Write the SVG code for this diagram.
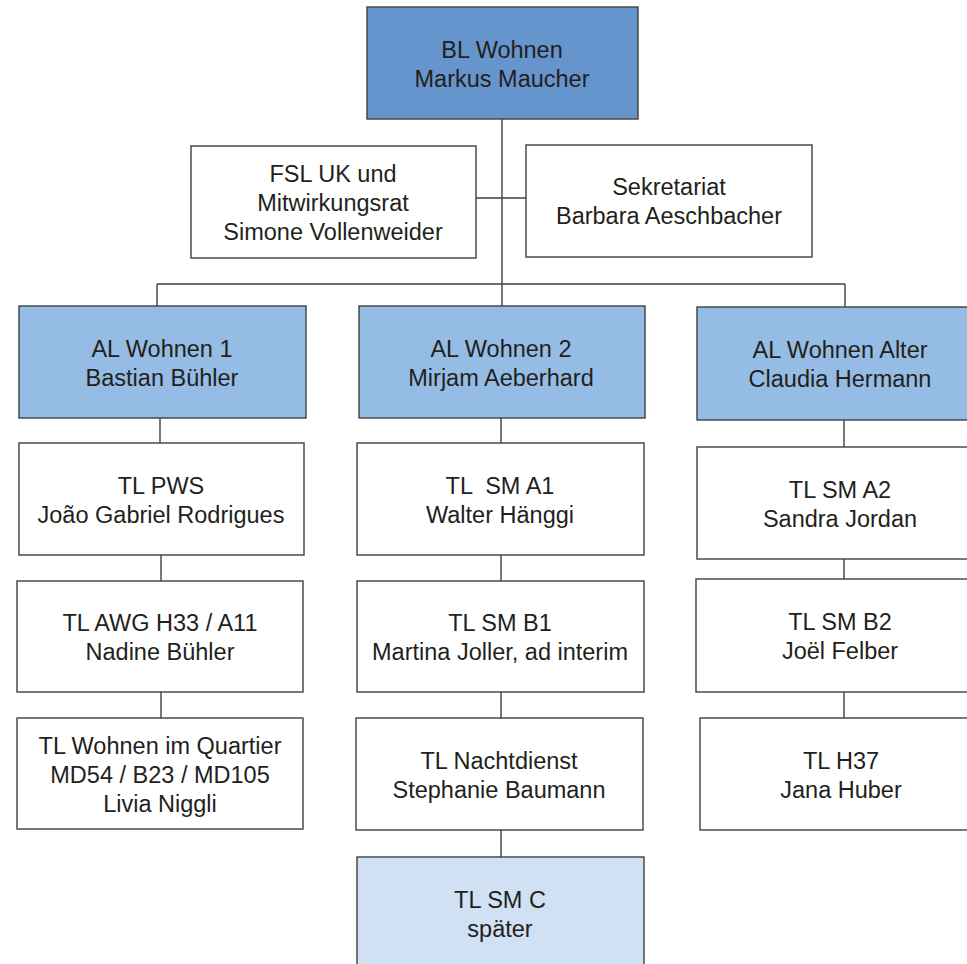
<svg xmlns="http://www.w3.org/2000/svg" width="967" height="964" viewBox="0 0 967 964">
<style>
.box{stroke:#3f3f3f;stroke-width:1.4}
.w{fill:#ffffff}
.top{fill:#6694cc}
.al{fill:#95bce4}
.lt{fill:#d0e1f3}
text{font-family:"Liberation Sans",Arial,sans-serif;font-size:23.5px;fill:#231f20;text-anchor:middle}
.pre{white-space:pre}
.con line{stroke:#3f3f3f;stroke-width:1.4}
</style>
<rect width="967" height="964" fill="#ffffff"/>
<g class="con">
<line x1="502" y1="119" x2="502" y2="306"/>
<line x1="476" y1="198" x2="526" y2="198"/>
<line x1="157" y1="284" x2="845" y2="284"/>
<line x1="157" y1="284" x2="157" y2="306"/>
<line x1="845" y1="284" x2="845" y2="307"/>
<line x1="160" y1="418" x2="160" y2="443"/>
<line x1="161" y1="555" x2="161" y2="581"/>
<line x1="161" y1="692" x2="161" y2="718"/>
<line x1="501" y1="418" x2="501" y2="443"/>
<line x1="501" y1="555" x2="501" y2="581"/>
<line x1="501" y1="692" x2="501" y2="718"/>
<line x1="501" y1="830" x2="501" y2="857"/>
<line x1="844" y1="420" x2="844" y2="447"/>
<line x1="844" y1="559" x2="844" y2="579"/>
<line x1="844" y1="692" x2="844" y2="718"/>
</g>
<g id="bl"><rect class="box top" x="367" y="7" width="271" height="112"/><text x="502" y="58">BL Wohnen</text><text x="502" y="87">Markus Maucher</text></g>
<g id="fsl"><rect class="box w" x="191" y="146" width="285" height="112"/><text x="333" y="182">FSL UK und</text><text x="333" y="211">Mitwirkungsrat</text><text x="333" y="240">Simone Vollenweider</text></g>
<g id="sek"><rect class="box w" x="526" y="145" width="286" height="112"/><text x="669" y="195">Sekretariat</text><text x="669" y="224">Barbara Aeschbacher</text></g>
<g id="al1"><rect class="box al" x="19" y="306" width="287" height="112"/><text x="162" y="357">AL Wohnen 1</text><text x="162" y="386">Bastian Bühler</text></g>
<g id="al2"><rect class="box al" x="359" y="306" width="286" height="112"/><text x="501" y="357">AL Wohnen 2</text><text x="501" y="386">Mirjam Aeberhard</text></g>
<g id="al3"><rect class="box al" x="697" y="307" width="290" height="113"/><text x="840" y="358">AL Wohnen Alter</text><text x="840" y="387">Claudia Hermann</text></g>
<g id="pws"><rect class="box w" x="19" y="443" width="285" height="112"/><text x="161" y="494">TL PWS</text><text x="161" y="523">João Gabriel Rodrigues</text></g>
<g id="awg"><rect class="box w" x="17" y="581" width="286" height="111"/><text x="160" y="631">TL AWG H33 / A11</text><text x="160" y="660">Nadine Bühler</text></g>
<g id="wiq"><rect class="box w" x="17" y="718" width="286" height="111"/><text x="160" y="754">TL Wohnen im Quartier</text><text x="160" y="783">MD54 / B23 / MD105</text><text x="160" y="812">Livia Niggli</text></g>
<g id="a1"><rect class="box w" x="357" y="443" width="287" height="112"/><text class="pre" x="500" y="494">TL  SM A1</text><text x="500" y="523">Walter Hänggi</text></g>
<g id="b1"><rect class="box w" x="357" y="581" width="287" height="111"/><text x="500" y="631">TL SM B1</text><text x="500" y="660">Martina Joller, ad interim</text></g>
<g id="nd"><rect class="box w" x="356" y="718" width="287" height="112"/><text x="499" y="769">TL Nachtdienst</text><text x="499" y="798">Stephanie Baumann</text></g>
<g id="c"><rect class="box lt" x="357" y="857" width="287" height="112"/><text x="500" y="908">TL SM C</text><text x="500" y="937">später</text></g>
<g id="a2"><rect class="box w" x="697" y="447" width="290" height="112"/><text x="840" y="498">TL SM A2</text><text x="840" y="527">Sandra Jordan</text></g>
<g id="b2"><rect class="box w" x="696" y="579" width="291" height="113"/><text x="840" y="630">TL SM B2</text><text x="840" y="659">Joël Felber</text></g>
<g id="h37"><rect class="box w" x="700" y="718" width="287" height="112"/><text x="841" y="769">TL H37</text><text x="841" y="798">Jana Huber</text></g>
</svg>
